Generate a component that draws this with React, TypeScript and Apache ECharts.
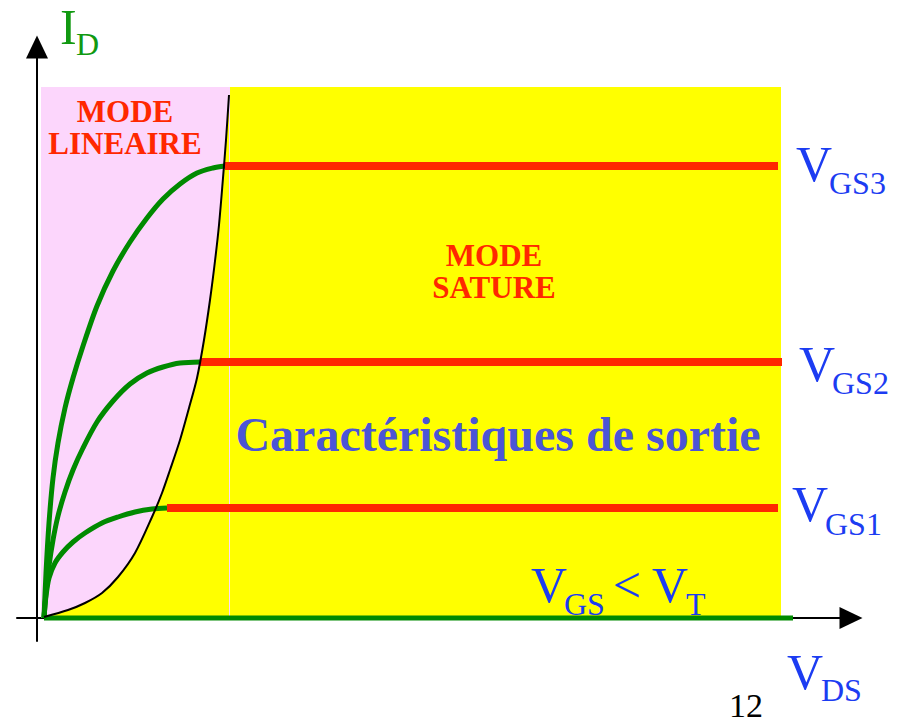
import React, { useEffect, useRef } from "react";
import * as echarts from "echarts";

// Schematic units: 1 unit ~ 1 px, origin at the axes crossing
const vgs1X = [7, 9, 12, 18, 26, 36, 48, 65, 81, 98, 115, 130];
const vgs1Y = [0, 22, 40, 55, 66, 76, 85, 95, 101, 106, 109, 110];
const vgs2X = [7, 9, 12, 16, 21, 28, 36, 46, 60, 76, 93, 110, 126, 143, 163];
const vgs2Y = [0, 25, 52, 78, 102, 126, 148, 170, 196, 217, 234, 245, 251, 255, 256];
const vgs3X = [7, 9, 12, 16, 21, 28, 36, 46, 60, 76, 93, 110, 126, 143, 160, 176, 188];
const vgs3Y = [0, 45, 95, 140, 175, 210, 240, 272, 312, 347, 376, 400, 419, 434, 445, 450, 452];
// saturation plateaus: [start VDS, end VDS, ID]
const sat1 = [130, 741, 110];
const sat2 = [163, 745, 256];
const sat3 = [188, 741, 452];
// cut-off (VGS < VT)
const cutoff = [7, 756, 0];
// boundary between linear and saturated modes
const limitX = [7, 31, 48, 65, 81, 98, 115, 125, 133, 143, 152, 160, 167, 173, 178, 182, 186, 189, 192];
const limitY = [1, 8, 15, 25, 41, 65, 101, 125, 148, 178, 210, 240, 278, 318, 357, 393, 440, 478, 523];
// regions [x0, x1, y0, y1]
const linearRegion = [4, 194, 0, 531];
const saturatedRegion = [193, 744, 0, 531];

const SERIF = "'Liberation Serif', 'Times New Roman', 'DejaVu Serif', serif";
const GREEN = "#008a00";
const RED = "#ff2800";
const BLUE = "#1c3cf2";

const zip = (xs: number[], ys: number[]) => xs.map((x, i) => [x, ys[i]]);

function txt(text: string, x: number, y: number, size: number, fill: string, opts: any = {}) {
  return {
    type: "text",
    x,
    y,
    silent: true,
    z: 100,
    style: {
      text,
      fill,
      font: `${opts.bold ? "bold " : ""}${size}px ${SERIF}`,
      align: opts.align || "left",
      verticalAlign: "middle",
    },
  };
}

export default function App() {
  const ref = useRef<HTMLDivElement>(null);
  useEffect(() => {
    document.body.style.margin = "0";
    const chart = echarts.init(ref.current!, undefined, { renderer: "svg" });
    const greenCurve = (xs: number[], ys: number[]) => ({
      type: "line",
      data: zip(xs, ys),
      smooth: 0.3,
      showSymbol: false,
      symbol: "none",
      z: 4,
      lineStyle: { color: GREEN, width: 5 },
    });
    const plateau = (s: number[]) => ({
      type: "line",
      data: [
        [s[0], s[2]],
        [s[1], s[2]],
      ],
      showSymbol: false,
      symbol: "none",
      z: 4,
      lineStyle: { color: RED, width: 8, cap: "butt" },
    });
    chart.setOption({
      animation: false,
      backgroundColor: "#ffffff",
      grid: { left: 17, right: 58, top: 47, bottom: 85, containLabel: false },
      xAxis: {
        type: "value",
        min: -20,
        max: 814,
        splitLine: { show: false },
        axisTick: { show: false },
        axisLabel: { show: false },
        axisLine: {
          onZero: true,
          symbol: ["none", "triangle"],
          symbolSize: [22, 23],
          lineStyle: { color: "#000", width: 2 },
        },
      },
      yAxis: {
        type: "value",
        min: -23,
        max: 571,
        splitLine: { show: false },
        axisTick: { show: false },
        axisLabel: { show: false },
        axisLine: {
          onZero: true,
          symbol: ["none", "triangle"],
          symbolSize: [22, 23],
          lineStyle: { color: "#000", width: 2 },
        },
      },
      series: [
        {
          type: "line",
          data: [],
          z: 1,
          markArea: {
            silent: true,
            data: [
              [
                { xAxis: linearRegion[0], yAxis: linearRegion[2], itemStyle: { color: "#fcd6fc", opacity: 1 } },
                { xAxis: linearRegion[1], yAxis: linearRegion[3] },
              ],
              [
                { xAxis: saturatedRegion[0], yAxis: saturatedRegion[2], itemStyle: { color: "#ffff00", opacity: 1 } },
                { xAxis: saturatedRegion[1], yAxis: saturatedRegion[3] },
              ],
            ],
          },
        },
        {
          type: "line",
          data: zip(limitX, limitY),
          smooth: 0.3,
          showSymbol: false,
          symbol: "none",
          z: 2,
          lineStyle: { width: 0, color: "#ffff00" },
          areaStyle: { color: "#ffff00", opacity: 1 },
        },
        greenCurve(vgs1X, vgs1Y),
        greenCurve(vgs2X, vgs2Y),
        greenCurve(vgs3X, vgs3Y),
        plateau(sat1),
        plateau(sat2),
        plateau(sat3),
        {
          type: "line",
          data: [
            [cutoff[0], cutoff[2]],
            [cutoff[1], cutoff[2]],
          ],
          showSymbol: false,
          symbol: "none",
          z: 4,
          lineStyle: { color: GREEN, width: 5 },
        },
        {
          type: "line",
          data: zip(limitX, limitY),
          smooth: 0.3,
          showSymbol: false,
          symbol: "none",
          z: 6,
          lineStyle: { width: 2, color: "#000" },
        },
      ],
      graphic: [
        txt("I", 60, 27, 50, "#119911"),
        txt("D", 76, 44, 32, "#119911"),
        txt("MODE", 125, 111, 31, RED, { bold: true, align: "center" }),
        txt("LINEAIRE", 125, 143.5, 31, RED, { bold: true, align: "center" }),
        txt("MODE", 494, 255, 31, RED, { bold: true, align: "center" }),
        txt("SATURE", 494, 287, 31, RED, { bold: true, align: "center" }),
        txt("Caractéristiques de sortie", 498, 434, 48, "#4b55d6", { bold: true, align: "center" }),
        txt("V", 796, 164, 50, BLUE),
        txt("GS3", 829, 183, 32, BLUE),
        txt("V", 799, 364, 50, BLUE),
        txt("GS2", 832, 383, 32, BLUE),
        txt("V", 792, 504, 50, BLUE),
        txt("GS1", 825, 524, 32, BLUE),
        txt("V", 531, 585, 50, BLUE),
        txt("GS", 564, 604, 32, BLUE),
        txt("<", 613, 585, 50, BLUE),
        txt("V", 652, 585, 50, BLUE),
        txt("T", 686, 604, 32, BLUE),
        txt("V", 787, 672, 50, BLUE),
        txt("DS", 821, 690, 32, BLUE),
        txt("12", 729, 705, 34, "#000"),
      ],
    });
    return () => chart.dispose();
  }, []);
  return <div ref={ref} style={{ width: 909, height: 726 }} />;
}
